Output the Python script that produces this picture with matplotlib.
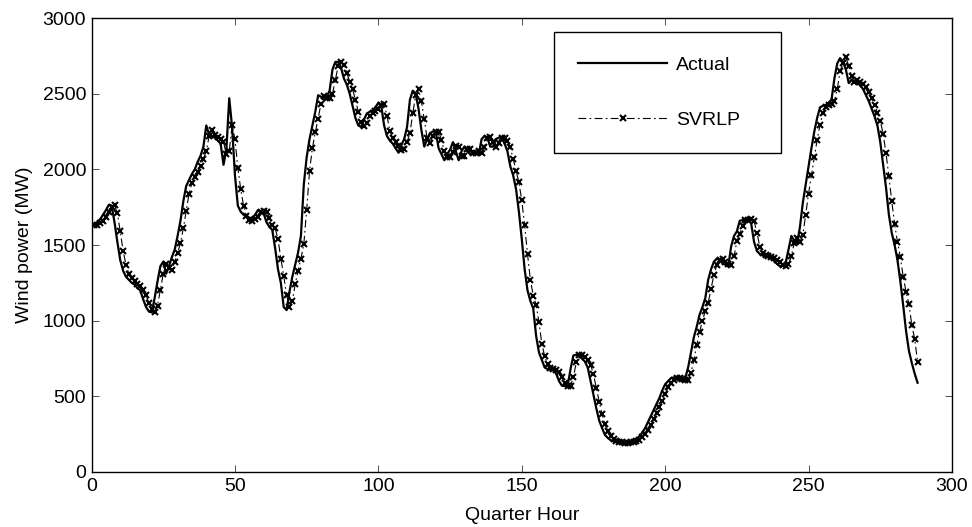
import matplotlib
matplotlib.use("Agg")
import matplotlib.pyplot as plt

plt.rcParams['font.family'] = ['Liberation Sans', 'DejaVu Sans']

quarter_hour = list(range(1, 289))

actual = [
    1640, 1650, 1670, 1700, 1730, 1765, 1760, 1650, 1520, 1400,
    1330, 1290, 1270, 1250, 1240, 1215, 1200, 1140, 1090, 1060,
    1055, 1150, 1260, 1360, 1390, 1310, 1360, 1420, 1470, 1560,
    1660, 1790, 1890, 1930, 1970, 2000, 2050, 2090, 2150, 2290,
    2230, 2220, 2210, 2190, 2170, 2030, 2130, 2470, 2280, 1960,
    1760, 1720, 1700, 1695, 1680, 1675, 1700, 1730, 1720, 1710,
    1650, 1620, 1600, 1480, 1340, 1250, 1090, 1070, 1190, 1290,
    1370, 1450, 1560, 1900, 2080, 2200, 2290, 2380, 2490, 2480,
    2460, 2480, 2520, 2660, 2710, 2710, 2670, 2600, 2560, 2500,
    2420, 2340, 2290, 2280, 2330, 2370, 2380, 2390, 2410, 2440,
    2420, 2290, 2220, 2190, 2170, 2140, 2110, 2160, 2200, 2280,
    2460, 2520, 2500, 2400, 2260, 2150, 2200, 2240, 2250, 2250,
    2140, 2100, 2060, 2100, 2130, 2180, 2120, 2060, 2120, 2150,
    2120, 2100, 2120, 2120, 2100, 2200, 2220, 2210, 2150, 2150,
    2200, 2210, 2210, 2170, 2120, 2020, 1960, 1870, 1720, 1540,
    1340, 1200, 1130, 1080, 900, 790, 740, 690, 680, 675,
    675, 650, 600, 570, 568, 570, 680, 770, 775, 765,
    750, 730, 690, 600, 510, 420, 340, 290, 245, 225,
    210, 203, 198, 194, 194, 194, 196, 200, 207, 220,
    235, 260, 290, 330, 370, 410, 450, 490, 540, 580,
    600, 620, 625, 620, 610, 600, 620, 690, 790, 890,
    960, 1040, 1090, 1150, 1270, 1340, 1390, 1410, 1400, 1380,
    1370, 1360, 1490, 1560, 1590, 1660, 1665, 1670, 1675, 1640,
    1520, 1460, 1440, 1430, 1425, 1420, 1410, 1395, 1375, 1360,
    1365, 1380, 1470, 1560, 1530, 1510, 1620, 1780, 1900, 2020,
    2140, 2250, 2340, 2410, 2420, 2425, 2440, 2460, 2600, 2700,
    2735, 2710, 2660, 2570, 2590, 2585, 2575, 2555, 2530, 2490,
    2450, 2400, 2350, 2290, 2180, 2030, 1880, 1700, 1580, 1500,
    1400, 1260, 1100, 930, 800, 720, 650, 590,
]

svrlp = [
    1630, 1630, 1645, 1660, 1685, 1715, 1750, 1765, 1710, 1590,
    1460, 1370, 1310, 1280, 1260, 1245, 1230, 1205, 1170, 1115,
    1075, 1060, 1100, 1205, 1310, 1375, 1350, 1335, 1390, 1445,
    1515, 1610, 1725, 1840, 1910, 1950, 1985, 2025, 2070, 2120,
    2220, 2260, 2225, 2215, 2200, 2180, 2100, 2120, 2290, 2200,
    2010, 1870, 1760, 1690, 1665, 1660, 1675, 1688, 1715, 1725,
    1715, 1680, 1635, 1610, 1540, 1410, 1295, 1170, 1090, 1130,
    1240, 1330, 1410, 1505, 1730, 1990, 2140, 2245, 2335, 2435,
    2485, 2470, 2470, 2500, 2590, 2685, 2710, 2690, 2635, 2580,
    2530, 2460, 2380, 2315, 2285, 2305, 2350, 2375, 2385, 2400,
    2425, 2430, 2355, 2255, 2205, 2180, 2155, 2125, 2135, 2180,
    2240, 2370, 2490, 2530, 2450, 2330, 2205, 2175, 2220, 2245,
    2250, 2195, 2120, 2080, 2080, 2115, 2155, 2150, 2090, 2090,
    2135, 2135, 2110, 2110, 2120, 2110, 2150, 2210, 2215, 2180,
    2150, 2175, 2205, 2210, 2190, 2145, 2070, 1990, 1915, 1795,
    1630, 1440, 1270, 1165, 1105, 990, 845, 765, 715, 685,
    678, 675, 663, 625, 585, 569, 569, 625, 725, 772,
    770, 758, 740, 710, 645, 555, 465, 380, 315, 268,
    235, 218, 206, 200, 196, 194, 194, 195, 198, 203,
    213, 228, 248, 275, 310, 350, 390, 430, 470, 515,
    560, 590, 610, 622, 622, 615, 605, 610, 655, 740,
    840, 925, 1000, 1065, 1120, 1210, 1305, 1365, 1400, 1405,
    1390, 1375, 1365, 1425, 1525, 1575, 1625, 1662, 1668, 1672,
    1658, 1580, 1490, 1450, 1435, 1428, 1422, 1415, 1402, 1385,
    1368, 1362, 1372, 1425, 1515, 1545, 1520, 1565, 1700, 1840,
    1960, 2080, 2195, 2295, 2375, 2415, 2422, 2432, 2450, 2530,
    2650, 2700, 2740, 2685, 2615, 2580, 2588, 2580, 2565, 2542,
    2510, 2470, 2425, 2375, 2320, 2235, 2105, 1955, 1790, 1640,
    1520, 1420, 1290, 1190, 1110, 970, 880, 729,
]

x_ticks = [0, 50, 100, 150, 200, 250, 300]
y_ticks = [0, 500, 1000, 1500, 2000, 2500, 3000]

FS = 14

fig = plt.figure(figsize=(9.72, 5.27), dpi=100)
ax = fig.add_axes([0.0942, 0.1044, 0.8852, 0.8614])

ax.plot(quarter_hour, actual, color='black', linewidth=1.6, label='Actual')
ax.plot(quarter_hour, svrlp, color='black', linewidth=0.8,
        linestyle=(0, (7, 3, 1.5, 3)), marker='x', markersize=4.5,
        markeredgewidth=1.5, label='SVRLP')

ax.set_xlim(0, 300)
ax.set_ylim(0, 3000)
ax.set_xticks(x_ticks)
ax.set_yticks(y_ticks)
ax.tick_params(direction='in', top=True, right=True, labelsize=FS,
               length=5, width=0.6, color='#333333', pad=4)
for s in ax.spines.values():
    s.set_linewidth(1.0)
ax.set_xlabel('Quarter Hour', fontsize=FS, labelpad=9)
ax.set_ylabel('Wind power (MW)', fontsize=FS, labelpad=7)

leg = ax.legend(loc='upper left', bbox_to_anchor=(0.537, 0.711, 0.264, 0.258),
                mode='expand', fontsize=FS, fancybox=False, framealpha=1,
                edgecolor='black', handlelength=4.6, handletextpad=0.45,
                labelspacing=1.9, borderpad=1.25, borderaxespad=0.0)
leg.get_frame().set_linewidth(1.0)

fig.savefig('out.png', dpi=100)
